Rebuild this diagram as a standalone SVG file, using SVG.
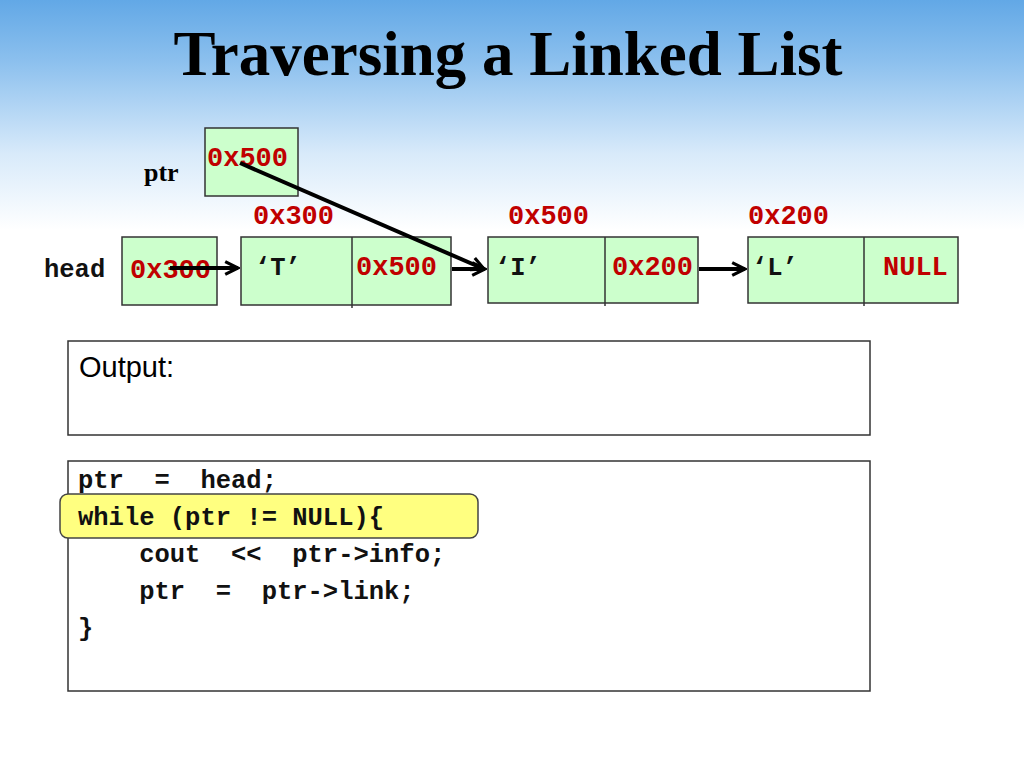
<svg xmlns="http://www.w3.org/2000/svg" width="1024" height="768" viewBox="0 0 1024 768">
<defs>
<linearGradient id="bg" x1="0" y1="0" x2="0" y2="1">
<stop offset="0" stop-color="#62a8e6"/><stop offset="0.08" stop-color="#8cc0ee"/><stop offset="0.2" stop-color="#d8eafa"/><stop offset="0.3" stop-color="#ffffff"/><stop offset="1" stop-color="#ffffff"/>
</linearGradient>
<marker id="ah" viewBox="0 0 10 10" refX="9" refY="5" markerWidth="4" markerHeight="4" orient="auto"><path d="M1,1 L9,5 L1,9" fill="none" stroke="#000" stroke-width="2"/></marker>
</defs>
<style>
.box{fill:#ccffcc;stroke:#333;stroke-width:1.5}
.addr{font-family:"Liberation Mono",monospace;font-weight:bold;font-size:27px;fill:#c00000}
.mono{font-family:"Liberation Mono",monospace;font-weight:bold;font-size:25.5px;fill:#111}
.con{stroke:#000;stroke-width:4;fill:none;marker-end:url(#ah)}
</style>
<rect width="1024" height="768" fill="url(#bg)"/>
<text x="508" y="75" text-anchor="middle" font-family="Liberation Serif,serif" font-weight="bold" font-size="63">Traversing a Linked List</text>
<text x="144" y="181" font-family="Liberation Serif,serif" font-weight="bold" font-size="26">ptr</text>
<text x="44" y="277" class="mono" font-size="27">head</text>
<g id="ptr"><rect class="box" x="205" y="128" width="93" height="68"/><text class="addr" x="207" y="166">0x500</text></g>
<g id="head"><rect class="box" x="122" y="237" width="95" height="68"/><text class="addr" x="130" y="278">0x300</text></g>
<text class="addr" x="253" y="224">0x300</text>
<text class="addr" x="508" y="224">0x500</text>
<text class="addr" x="748" y="224">0x200</text>
<g id="nT"><rect class="box" x="241" y="237" width="210" height="68"/><line x1="352" y1="237" x2="352" y2="308" stroke="#333" stroke-width="1.5"/><text class="mono" x="255" y="275">‘T’</text><text class="addr" x="356" y="275">0x500</text></g>
<g id="nI"><rect class="box" x="488" y="237" width="210" height="66"/><line x1="605" y1="237" x2="605" y2="306" stroke="#333" stroke-width="1.5"/><text class="mono" x="495" y="275">‘I’</text><text class="addr" x="612" y="275">0x200</text></g>
<g id="nL"><rect class="box" x="748" y="237" width="210" height="66"/><line x1="864" y1="237" x2="864" y2="306" stroke="#333" stroke-width="1.5"/><text class="mono" x="752" y="275">‘L’</text><text class="addr" x="883" y="275">NULL</text></g>
<g id="connectors">
<line class="con" x1="170" y1="268" x2="238" y2="268"/>
<line class="con" x1="240" y1="163" x2="484" y2="269"/>
<line class="con" x1="452" y1="269" x2="485" y2="269"/>
<line class="con" x1="699" y1="269" x2="745" y2="269"/>
</g>
<g id="output"><rect x="68" y="341" width="802" height="94" fill="#fff" stroke="#333" stroke-width="1.5"/><text x="79" y="377" font-family="Liberation Sans,sans-serif" font-size="29">Output:</text></g>
<g id="code"><rect x="68" y="461" width="802" height="230" fill="#fff" stroke="#333" stroke-width="1.5"/>
<rect x="60" y="494" width="418" height="44" rx="8" fill="#ffff80" stroke="#444" stroke-width="1.5"/>
<text class="mono" x="78" y="488" xml:space="preserve">ptr  =  head;</text>
<text class="mono" x="78" y="525">while (ptr != NULL){</text>
<text class="mono" x="78" y="562" xml:space="preserve">    cout  &lt;&lt;  ptr-&gt;info;</text>
<text class="mono" x="78" y="599" xml:space="preserve">    ptr  =  ptr-&gt;link;</text>
<text class="mono" x="78" y="636">}</text>
</g>
</svg>
